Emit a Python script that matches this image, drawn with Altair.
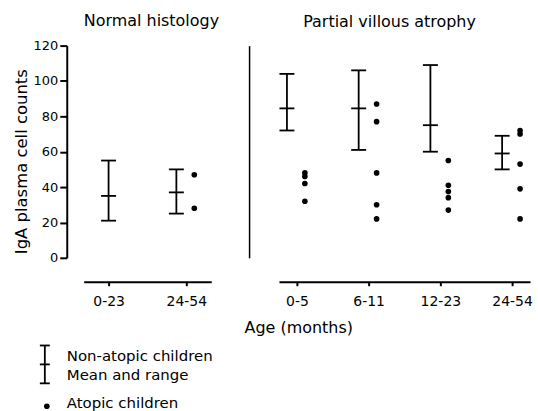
import altair as alt
import pandas as pd

# ---- data ----
normal_cats = ["0-23", "24-54"]
normal_mean = [35, 37]
normal_low = [21, 25]
normal_high = [55, 50]
normal_dot_cat = ["24-54", "24-54"]
normal_dot_val = [47, 28]

pva_cats = ["0-5", "6-11", "12-23", "24-54"]
pva_mean = [84.5, 84.5, 75, 59]
pva_low = [72, 61, 60, 50]
pva_high = [104, 106, 109, 69]
pva_dot_cat = ["0-5"] * 4 + ["6-11"] * 5 + ["12-23"] * 5 + ["24-54"] * 5
pva_dot_val = [48, 46, 42, 32,
               87, 77, 48, 30, 22,
               55, 41, 37.5, 34, 27,
               72, 70, 53, 39, 22]

y_ticks = [0, 20, 40, 60, 80, 100, 120]
panel_titles = ["Normal histology", "Partial villous atrophy"]
y_title = "IgA plasma cell counts"
x_title = "Age (months)"
legend_labels = ["Non-atopic children", "Mean and range", "Atopic children"]

FONT = "DejaVu Sans"
LW = 1.8


def panel(cats, mean, low, high, dcat, dval, width, pad, yaxis, xaxis, title):
    bars = pd.DataFrame({"cat": cats, "mean": mean, "low": low, "high": high})
    bars["paired"] = bars["cat"].isin(set(dcat))
    dots = pd.DataFrame({"cat": dcat, "val": dval})
    xs = alt.X("cat:N", scale=alt.Scale(domain=cats, type="point", padding=pad),
               sort=cats, axis=xaxis)
    ys = alt.Scale(domain=[0, 120], nice=False, zero=True)
    layers = []
    for paired, off in [(True, -10), (False, 0)]:
        base = alt.Chart(bars).transform_filter(
            alt.datum.paired if paired else ~alt.datum.paired)
        layers.append(base.mark_rule(color="black", strokeWidth=LW, xOffset=off).encode(
            x=xs, y=alt.Y("low:Q", scale=ys, axis=yaxis), y2="high:Q"))
        for f in ["low", "high", "mean"]:
            layers.append(base.mark_tick(color="black", thickness=LW, size=15,
                                         orient="horizontal", xOffset=off, opacity=1).encode(
                x=xs, y=alt.Y(f"{f}:Q", scale=ys, axis=yaxis)))
    layers.append(alt.Chart(dots).mark_circle(color="black", size=32, opacity=1,
                                              xOffset=8).encode(
        x=xs, y=alt.Y("val:Q", scale=ys, axis=yaxis)))
    return alt.layer(*layers).properties(width=width, height=213, title=title)


xaxis_common = dict(offset=24, domainWidth=2, domainColor="black", tickSize=4,
                    tickWidth=2, tickColor="black", labelAngle=0, labelFont=FONT,
                    labelFontSize=14, labelColor="black", labelPadding=9)

TITLE_FS = 16

left = panel(
    normal_cats, normal_mean, normal_low, normal_high, normal_dot_cat, normal_dot_val,
    128, 0.32,
    alt.Axis(values=y_ticks, offset=17, domainWidth=2, domainColor="black", tickSize=7,
             tickWidth=2, tickColor="black", labelFont=FONT, labelFontSize=13,
             labelColor="black", labelPadding=2, labelOverlap=False, grid=False,
             title=y_title, titleFont=FONT, titleFontSize=16.5, titleFontWeight="normal",
             titleColor="black", titleAngle=-90, titleX=-45, titleY=116,
             titleAlign="center", titleBaseline="middle"),
    alt.Axis(title=None, **xaxis_common),
    alt.TitleParams(panel_titles[0], font=FONT, fontSize=TITLE_FS, fontWeight="normal",
                    color="black", offset=11, dx=4, frame="group"),
)

right = panel(
    pva_cats, pva_mean, pva_low, pva_high, pva_dot_cat, pva_dot_val,
    252, 0.25,
    alt.Axis(offset=30, ticks=False, labels=False, title=None, grid=False,
             domainWidth=1.5, domainColor="black"),
    alt.Axis(title=x_title, titleFont=FONT, titleFontSize=16, titleFontWeight="normal",
             titleColor="black", titleX=-35, titleY=46, titleAlign="left",
             titleBaseline="middle", **xaxis_common),
    alt.TitleParams(panel_titles[1], font=FONT, fontSize=TITLE_FS, fontWeight="normal",
                    color="black", offset=16, dx=-15, frame="group"),
)

# ---- legend drawn as its own small view ----
one = pd.DataFrame({"k": [0]})
IX = -39
leg_rule = alt.Chart(one).mark_rule(color="black", strokeWidth=LW).encode(
    x=alt.value(IX), y=alt.value(7), y2=alt.value(45))
leg_caps = [alt.Chart(one).mark_rule(color="black", strokeWidth=LW).encode(
    x=alt.value(IX - 5), x2=alt.value(IX + 5), y=alt.value(v)) for v in (7, 26, 45)]
leg_dot = alt.Chart(one).mark_circle(color="black", size=32, opacity=1).encode(
    x=alt.value(IX + 2), y=alt.value(68))
leg_text = [alt.Chart(pd.DataFrame({"t": [lab]})).mark_text(
    align="left", baseline="middle", font=FONT, fontSize=15, color="black").encode(
    text="t:N", x=alt.value(-17), y=alt.value(yy))
    for lab, yy in zip(legend_labels, (18, 37, 65))]
legend = alt.layer(leg_rule, *leg_caps, leg_dot, *leg_text).properties(width=200, height=74)

chart = alt.vconcat(
    alt.hconcat(left, right, spacing=25),
    legend,
    spacing=3,
).properties(padding={"left": 13, "top": 12, "right": 5, "bottom": 0}).configure_view(
    stroke=None)

chart.save("out.html", embed_options={"renderer": "svg", "actions": False})
